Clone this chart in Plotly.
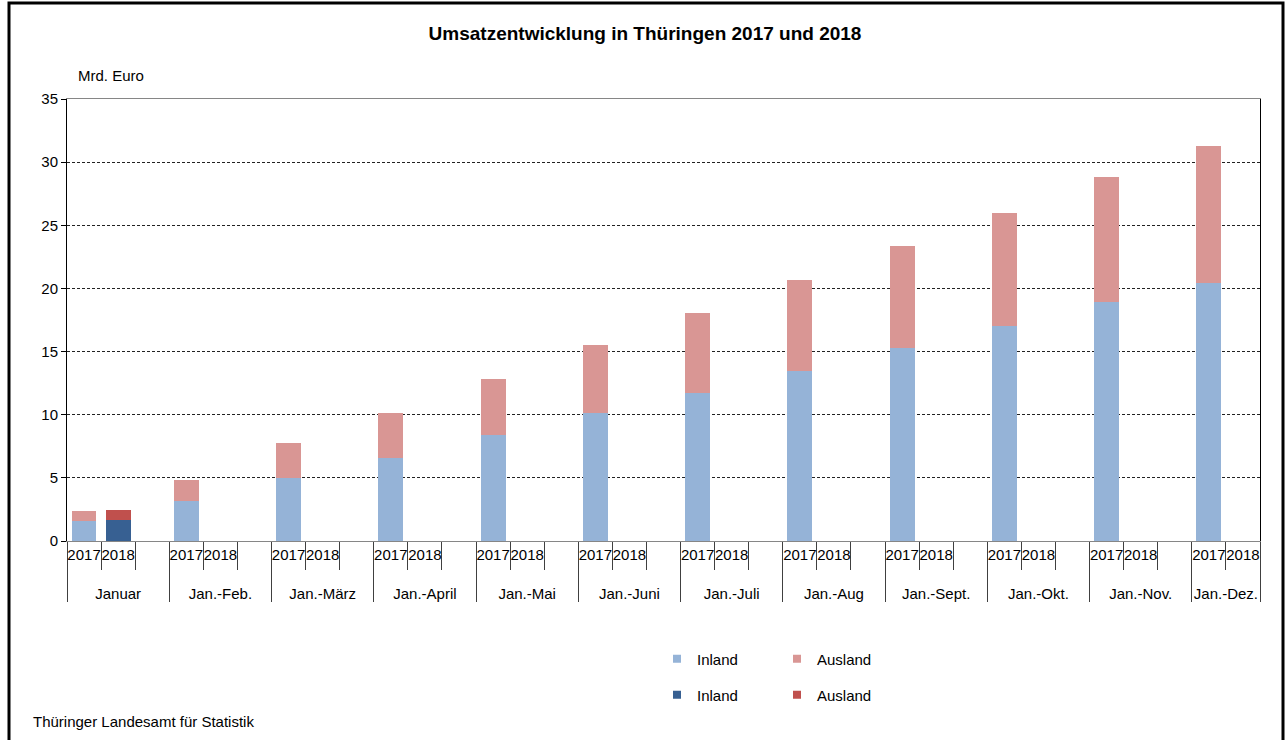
import plotly.graph_objects as go

groups = ["Januar", "Jan.-Feb.", "Jan.-März", "Jan.-April", "Jan.-Mai", "Jan.-Juni",
          "Jan.-Juli", "Jan.-Aug", "Jan.-Sept.", "Jan.-Okt.", "Jan.-Nov.", "Jan.-Dez."]
years = ["2017", "2018"]

inland_2017 = [1.58, 3.14, 5.00, 6.61, 8.37, 10.13, 11.71, 13.50, 15.29, 17.00, 18.95, 20.40]
ausland_2017 = [0.79, 1.66, 2.78, 3.55, 4.42, 5.43, 6.34, 7.13, 8.10, 8.94, 9.89, 10.87]
inland_2018 = [1.64]
ausland_2018 = [0.84]

title_text = "Umsatzentwicklung in Thüringen 2017 und 2018"
unit_text = "Mrd. Euro"
source_text = "Thüringer Landesamt für Statistik"

FONT = "Liberation Sans, Arial, sans-serif"
C_IN17 = "#95B3D7"
C_AUS17 = "#D99694"
C_IN18 = "#376092"
C_AUS18 = "#C0504D"

# multicategory slots: each group has 2017, 2018 and a blank spacer (except the last)
# group labels get a leading line break so they sit lower, as in the original
xg, xy = [], []
for i, g in enumerate(groups):
    for yr in years:
        xg.append("<br>" + g)
        xy.append(yr)
    if i < len(groups) - 1:
        xg.append("<br>" + g)
        xy.append(" ")


def series(year, values):
    out = []
    for g, yr in zip(xg, xy):
        if yr == year:
            idx = groups.index(g.replace("<br>", ""))
            out.append(values[idx] if idx < len(values) else None)
        else:
            out.append(None)
    return out


fig = go.Figure()
for name, year, vals, col in [("Inland", "2017", inland_2017, C_IN17),
                              ("Ausland", "2017", ausland_2017, C_AUS17),
                              ("Inland", "2018", inland_2018, C_IN18),
                              ("Ausland", "2018", ausland_2018, C_AUS18)]:
    fig.add_trace(go.Bar(x=[xg, xy], y=series(year, vals), name=name,
                         marker=dict(color=col, line=dict(width=0)),
                         showlegend=False))

# legend proxies (small square symbols)
for name, col, lg in [("Inland", C_IN17, "legend"), ("Ausland", C_AUS17, "legend"),
                      ("Inland", C_IN18, "legend2"), ("Ausland", C_AUS18, "legend2")]:
    fig.add_trace(go.Scatter(x=[None], y=[None], mode="markers", name=name,
                             marker=dict(symbol="square", size=8, color=col),
                             xaxis="x2", yaxis="y2", legend=lg, showlegend=True))

OFF = 0  # page body margin removed by post_script
W, H = 1286, 740
PL, PR, PT, PB = 67, 1260, 99, 541  # plot area in page pixels
L = PL - OFF
T = PT - OFF
R = W - (PR - OFF)
B = H - (PB - OFF)
PW = PR - PL
PH = PB - PT


def px(xpage):
    return (xpage - PL) / PW


def py(ypage):
    return (PB - ypage) / PH


fig.update_layout(
    width=W, height=H,
    margin=dict(l=L, r=R, t=T, b=B),
    paper_bgcolor="white", plot_bgcolor="rgba(0,0,0,0)",
    font=dict(family=FONT, size=15, color="black"),
    barmode="stack", bargap=0.27,
    title=dict(text="<b>" + title_text + "</b>", x=(645 - OFF) / W, xref="container",
               xanchor="center", y=1 - (33 - OFF) / H, yanchor="middle",
               font=dict(family=FONT, size=19, color="black")),
    xaxis=dict(type="multicategory", showline=True, linecolor="#868686", linewidth=1,
               mirror=True, ticks="outside", tickson="boundaries", ticklen=28,
               tickcolor="#404040", showdividers=True, dividercolor="#404040",
               dividerwidth=1, tickangle=0, tickfont=dict(size=15, color="black"),
               showgrid=False),
    yaxis=dict(range=[0, 35], dtick=5, tick0=0, showgrid=True, gridcolor="#222222",
               griddash="3px,2px", gridwidth=1, showline=True, linecolor="black",
               linewidth=1, mirror=True, ticks="outside", ticklen=5, tickcolor="black",
               zeroline=False, tickfont=dict(size=15, color="black")),
    xaxis2=dict(visible=False, anchor="y2", domain=[0, 1]),
    yaxis2=dict(visible=False, anchor="x2", domain=[0, 1]),
    legend=dict(orientation="h", x=px(657), xanchor="left", y=py(659), yanchor="middle",
                entrywidth=75, traceorder="normal", font=dict(size=15, color="black"),
                bgcolor="rgba(0,0,0,0)", borderwidth=0),
    legend2=dict(orientation="h", x=px(657), xanchor="left", y=py(695), yanchor="middle",
                 entrywidth=75, traceorder="normal", font=dict(size=15, color="black"),
                 bgcolor="rgba(0,0,0,0)", borderwidth=0),
    annotations=[
        dict(text=unit_text, xref="paper", yref="paper", x=px(76), y=py(76),
             xanchor="left", yanchor="middle", showarrow=False,
             font=dict(size=15, color="black")),
        dict(text=source_text, xref="paper", yref="paper", x=px(31), y=py(721),
             xanchor="left", yanchor="middle", showarrow=False,
             font=dict(size=15, color="black")),
    ],
    shapes=[dict(type="rect", xref="paper", yref="paper", x0=px(9), x1=px(1283),
                 y0=py(770), y1=py(3), line=dict(color="black", width=3),
                 fillcolor="rgba(0,0,0,0)", layer="above")],
)

fig.write_html("out.html",
               config={"displayModeBar": False},
               post_script="document.body.style.margin='0';"
                           "document.body.style.overflow='hidden';")
